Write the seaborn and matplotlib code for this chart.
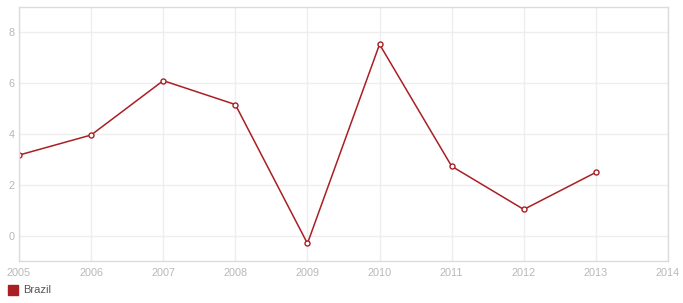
import matplotlib
matplotlib.use("Agg")
import matplotlib.pyplot as plt
import seaborn as sns
import pandas as pd
from matplotlib.patches import Rectangle

years = [2005, 2006, 2007, 2008, 2009, 2010, 2011, 2012, 2013]
brazil = [3.17, 3.96, 6.10, 5.16, -0.31, 7.53, 2.73, 1.03, 2.49]
x_ticks = [2005, 2006, 2007, 2008, 2009, 2010, 2011, 2012, 2013, 2014]
y_ticks = [0, 2, 4, 6, 8]
series_name = "Brazil"

df = pd.DataFrame({"year": years, "value": brazil})

sns.set_theme(style="white")
plt.rcParams["font.family"] = ["Liberation Sans", "DejaVu Sans"]

W, H = 683, 303
fig = plt.figure(figsize=(W / 100, H / 100), dpi=100)
ax = fig.add_axes([19 / W, 1 - 261 / H, (668 - 19) / W, (261 - 7) / H])

color = "#a91f24"
sns.lineplot(data=df, x="year", y="value", ax=ax, color=color, linewidth=1.1,
             marker="o", markersize=3.6, markerfacecolor="white",
             markeredgecolor=color, markeredgewidth=1.0)

ax.set_xlim(2005, 2014)
ax.set_ylim(-1, 9)
ax.set_xticks(x_ticks)
ax.set_xticklabels([str(t) for t in x_ticks])
ax.set_yticks(y_ticks)
ax.set_xlabel("")
ax.set_ylabel("")
ax.grid(True, color="#eeeeee", linewidth=1.0)
ax.set_axisbelow(True)
for s in ax.spines.values():
    s.set_color("#dcdcdc")
    s.set_linewidth(1.0)
ax.tick_params(axis="both", length=0, labelsize=7.8, colors="#b8b8b8")
ax.tick_params(axis="x", pad=5)
ax.tick_params(axis="y", pad=3)

# legend at bottom-left
fig.patches.append(Rectangle((8 / W, 1 - 295 / H), 10 / W, 10 / H,
                             transform=fig.transFigure, color=color))
fig.text(23 / W, 1 - 290 / H, series_name, fontsize=8, color="#555555",
         va="center", ha="left")

fig.savefig("out.png", dpi=100)
